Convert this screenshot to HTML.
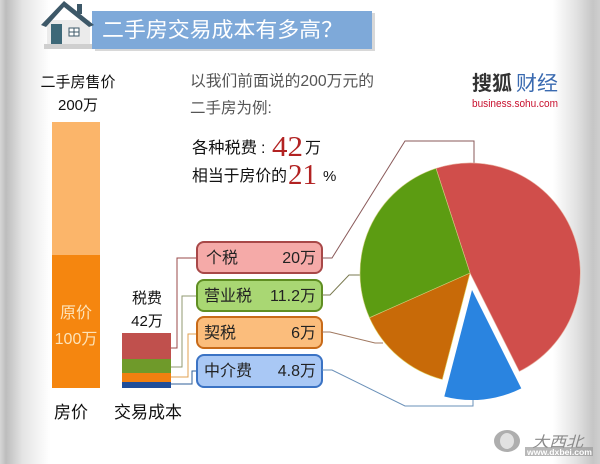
<!DOCTYPE html>
<html><head><meta charset="utf-8"><style>
html,body{margin:0;padding:0;background:#fff;}
body{width:600px;height:464px;overflow:hidden;position:relative;}
svg{position:absolute;left:0;top:0;}
text{font-family:"Liberation Sans","Noto Sans CJK SC",sans-serif;}
</style></head><body>
<svg width="600" height="464" viewBox="0 0 600 464" xmlns="http://www.w3.org/2000/svg">
<defs>
<linearGradient id="lg" x1="0" x2="1" y1="0" y2="0">
<stop offset="0" stop-color="#d6d6d6"/><stop offset="0.12" stop-color="#bdbdbd"/><stop offset="0.45" stop-color="#e4e4e4"/><stop offset="1" stop-color="#ffffff"/>
</linearGradient>
<linearGradient id="rg" x1="0" x2="1" y1="0" y2="0">
<stop offset="0" stop-color="#ffffff"/><stop offset="0.5" stop-color="#e2e2e2"/><stop offset="0.85" stop-color="#c6c6c6"/><stop offset="1" stop-color="#cfcfcf"/>
</linearGradient>
</defs>
<rect x="0" y="0" width="50" height="464" fill="url(#lg)"/>
<rect x="553" y="0" width="47" height="464" fill="url(#rg)"/>

<!-- title banner -->
<rect x="95" y="13" width="280" height="38" fill="#d8d8d8"/>
<rect x="92" y="11" width="280" height="38" fill="#7ea9d9"/>
<text x="102" y="37" font-size="21" fill="#fff" textLength="241" lengthAdjust="spacingAndGlyphs">二手房交易成本有多高？</text>
<!-- house -->
<rect x="47" y="20" width="43" height="27" fill="#ebebeb"/>
<rect x="77" y="4" width="5" height="10" fill="#3d5868"/>
<polygon points="41,25 64,1 94,25 89,27 64,7 46,27" fill="#3d5868"/>
<rect x="51" y="24" width="11" height="20" fill="#3d6878"/>
<rect x="69" y="28" width="10" height="8" fill="#fff" stroke="#3d5868" stroke-width="1"/>
<line x1="74" y1="28" x2="74" y2="36" stroke="#3d5868" stroke-width="1"/>
<line x1="69" y1="32" x2="79" y2="32" stroke="#3d5868" stroke-width="1"/>
<rect x="44" y="44" width="48" height="5" fill="#cfcfcf"/>

<!-- left labels -->
<text x="78" y="87" font-size="15" fill="#111" text-anchor="middle">二手房售价</text>
<text x="78" y="110" font-size="15" fill="#111" text-anchor="middle">200万</text>
<rect x="52" y="122" width="48" height="133" fill="#fbb56a"/>
<rect x="52" y="255" width="48" height="133" fill="#f5860f"/>
<text x="76" y="318" font-size="16" fill="#fde3b8" text-anchor="middle">原价</text>
<text x="76" y="344" font-size="16" fill="#fde3b8" text-anchor="middle">100万</text>

<text x="147" y="303" font-size="15" fill="#111" text-anchor="middle">税费</text>
<text x="147" y="326" font-size="15" fill="#111" text-anchor="middle">42万</text>
<rect x="122" y="333" width="49" height="26" fill="#c0504d"/>
<rect x="122" y="359" width="49" height="14" fill="#6f9a2a"/>
<rect x="122" y="373" width="49" height="9" fill="#f08010"/>
<rect x="122" y="382" width="49" height="6" fill="#1f4e9a"/>

<text x="71" y="418" font-size="17" fill="#111" text-anchor="middle">房价</text>
<text x="148" y="418" font-size="17" fill="#111" text-anchor="middle">交易成本</text>

<!-- left connectors -->
<polyline points="171,348 177,348 177,258 196,258" fill="none" stroke="#9a4848" stroke-width="1"/>
<polyline points="171,367 182,367 182,296 196,296" fill="none" stroke="#909a70" stroke-width="1"/>
<polyline points="171,377 188,377 188,334 196,334" fill="none" stroke="#e0a050" stroke-width="1"/>
<polyline points="171,384 192,384 192,371 196,371" fill="none" stroke="#2f5f98" stroke-width="1"/>

<!-- boxes -->
<rect x="197" y="242" width="125" height="31" rx="7" fill="#f5aaa8" stroke="#a84848" stroke-width="2"/>
<text x="206" y="263" font-size="16" fill="#222">个税</text>
<text x="316" y="263" font-size="16" fill="#222" text-anchor="end">20万</text>
<rect x="197" y="280" width="125" height="31" rx="7" fill="#a9d773" stroke="#5f8e22" stroke-width="2"/>
<text x="204" y="301" font-size="16" fill="#222">营业税</text>
<text x="316" y="301" font-size="16" fill="#222" text-anchor="end">11.2万</text>
<rect x="197" y="317" width="125" height="31" rx="7" fill="#fbbd7c" stroke="#c86a18" stroke-width="2"/>
<text x="204" y="338" font-size="16" fill="#222">契税</text>
<text x="316" y="338" font-size="16" fill="#222" text-anchor="end">6万</text>
<rect x="197" y="355" width="125" height="32" rx="7" fill="#a9c8f5" stroke="#3b73c4" stroke-width="2"/>
<text x="204" y="376" font-size="16" fill="#222">中介费</text>
<text x="316" y="376" font-size="16" fill="#222" text-anchor="end">4.8万</text>

<!-- right connectors -->
<polyline points="322,258 332,258 405,141 474,141 474,163" fill="none" stroke="#8a5a5a" stroke-width="1"/>
<polyline points="322,295 330,295 349,275 360,275" fill="none" stroke="#7a7a50" stroke-width="1"/>
<polyline points="322,332 330,332 375,343 383,343" fill="none" stroke="#a07860" stroke-width="1"/>
<polyline points="322,370 332,370 405,406 473,406 473,397" fill="none" stroke="#6a90b8" stroke-width="1"/>

<!-- pie -->
<path d="M470,273 L436.0,168.4 A110,110 0 0 1 519.3,371.4 Z" fill="#d04e4b" stroke="#e8b0a0" stroke-width="0.6"/>
<path d="M470,273 L442.3,379.5 A110,110 0 0 1 369.5,317.7 Z" fill="#c86a08" stroke="#e0d060" stroke-width="0.6"/>
<path d="M470,273 L369.5,317.7 A110,110 0 0 1 436.0,168.4 Z" fill="#5c9c12" stroke="#d0d080" stroke-width="0.6"/>
<path d="M472,290 L521.3,388.4 A110,110 0 0 1 444.3,396.5 Z" fill="#2a84e0"/>

<!-- top texts -->
<text x="190" y="86" font-size="15.5" fill="#555" textLength="184" lengthAdjust="spacingAndGlyphs">以我们前面说的200万元的</text>
<text x="190" y="113" font-size="15.5" fill="#555">二手房为例:</text>
<text x="192" y="153" font-size="16" fill="#111" textLength="65" lengthAdjust="spacingAndGlyphs">各种税费</text>
<text x="261" y="153" font-size="16" fill="#111">:</text>
<text x="272" y="156" font-size="28" fill="#b22222" font-family="Liberation Serif, serif" textLength="31" lengthAdjust="spacingAndGlyphs" style="font-family:'Liberation Serif',serif">42</text>
<text x="305" y="153" font-size="16" fill="#111">万</text>
<text x="192" y="181" font-size="16" fill="#111" textLength="95" lengthAdjust="spacingAndGlyphs">相当于房价的</text>
<text x="288" y="184" font-size="28" fill="#b22222" textLength="29" lengthAdjust="spacingAndGlyphs" style="font-family:'Liberation Serif',serif">21</text>
<text x="323" y="181" font-size="15" fill="#111">%</text>

<!-- logo -->
<text x="472" y="90" font-size="20" fill="#333" font-weight="bold" textLength="40" lengthAdjust="spacingAndGlyphs">搜狐</text>
<text x="516" y="90" font-size="20" fill="#3a6ab0" textLength="42" lengthAdjust="spacingAndGlyphs">财经</text>
<text x="472" y="107" font-size="11" fill="#c8102e" textLength="86" lengthAdjust="spacingAndGlyphs">business.sohu.com</text>

<!-- watermark -->
<ellipse cx="507" cy="441" rx="13" ry="11" fill="#9a9a9a" opacity="0.8"/>
<ellipse cx="507" cy="441" rx="7" ry="8" fill="#eeeeee" opacity="0.8"/>
<text x="532" y="447" font-size="15" fill="#8a8a8a" font-style="italic" textLength="51" lengthAdjust="spacingAndGlyphs">大西北</text>
<rect x="525" y="447" width="68" height="9" fill="#9a9a9a" opacity="0.7"/>
<text x="527" y="455" font-size="8" fill="#fff" font-weight="bold" textLength="65" lengthAdjust="spacingAndGlyphs">www.dxbei.com</text>
</svg>
</body></html>
